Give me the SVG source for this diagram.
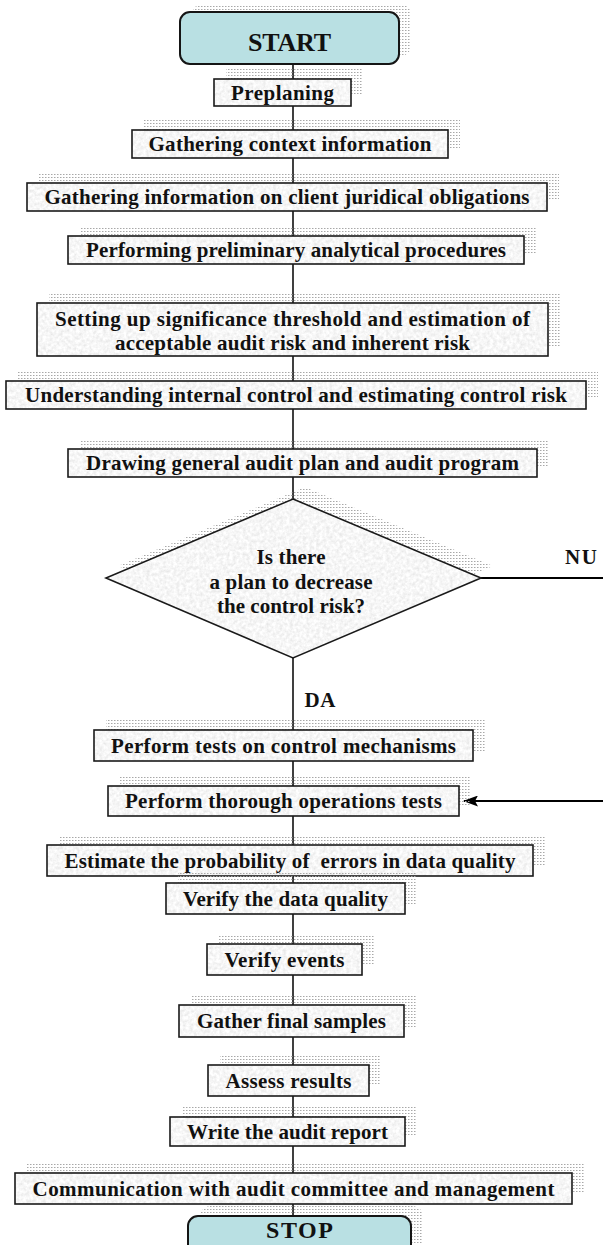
<svg xmlns="http://www.w3.org/2000/svg" width="603" height="1245" viewBox="0 0 603 1245">
<style>
text{font-family:"Liberation Serif","Times New Roman",serif;font-weight:bold;fill:#111;text-anchor:middle}
.t{font-size:21px}
.big{font-size:26px}
.stop{font-size:24px}
.box{fill:none;stroke:#1a1a1a;stroke-width:1.6}
.tex{fill:#e6e6e6;filter:url(#tex)}
.sh{fill:url(#dots)}
.term{fill:#b9e0e3;stroke:#151515;stroke-width:2}
.con{stroke:#111;stroke-width:1.6;fill:none}
.con2{stroke:#000;stroke-width:2;fill:none}
</style>
<defs>
<pattern id="dots" width="3" height="3" patternUnits="userSpaceOnUse">
<rect x="0" y="0" width="1.5" height="1" fill="#a8a8a8"/>
</pattern>
<filter id="tex" x="0" y="0" width="100%" height="100%">
<feTurbulence type="fractalNoise" baseFrequency="0.3" numOctaves="3" seed="4" result="n"/>
<feColorMatrix in="n" type="matrix" values="0.35 0 0 0 0.75  0.35 0 0 0 0.75  0.35 0 0 0 0.75  0 0 0 0 1" result="g"/>
<feComposite in="g" in2="SourceAlpha" operator="in"/>
</filter>
<marker id="arr" viewBox="0 0 15 11" refX="14" refY="5.5" markerWidth="15" markerHeight="11" markerUnits="userSpaceOnUse" orient="auto">
<path d="M0,0 L15,5.5 L0,11 L3,5.5 Z" fill="#000"/>
</marker>
</defs>

<g id="connectors">
<path class="con" d="M293,64V79M293,106V130M293,158V183M293,211V236M293,264V303M293,356V381M293,409V449M293,477V499M293,658V730M293,761V786M293,816V845M293,876V883M293,914V944M293,975V1005M293,1037V1065M293,1096V1117M293,1146V1173M293,1204V1216"/>
<path class="con2" d="M481,578H603"/>
<path class="con2" d="M603,801H464" marker-end="url(#arr)"/>
<text class="t" x="581" y="564" textLength="32">NU</text>
<text class="t" x="320" y="707" textLength="31">DA</text>
</g>

<g id="start">
<rect class="sh" x="192" y="4" width="219" height="52" rx="10"/>
<rect class="term" x="180" y="12" width="219" height="52" rx="10"/>
<text class="big" x="289.5" y="51" textLength="83">START</text>
</g>

<g id="preplaning">
<rect class="sh" x="226" y="69" width="137" height="27"/>
<rect class="tex" x="214" y="79" width="137" height="27"/>
<rect class="box" x="214" y="79" width="137" height="27"/>
<text class="t" x="282.5" y="99.5" textLength="103">Preplaning</text>
</g>

<g id="context">
<rect class="sh" x="144" y="120" width="316" height="28"/>
<rect class="tex" x="132" y="130" width="316" height="28"/>
<rect class="box" x="132" y="130" width="316" height="28"/>
<text class="t" x="290" y="151" textLength="283">Gathering context information</text>
</g>

<g id="juridical">
<rect class="sh" x="39" y="173" width="520" height="28"/>
<rect class="tex" x="27" y="183" width="520" height="28"/>
<rect class="box" x="27" y="183" width="520" height="28"/>
<text class="t" x="287" y="204" textLength="485">Gathering information on client juridical obligations</text>
</g>

<g id="analytical">
<rect class="sh" x="80" y="226" width="456" height="28"/>
<rect class="tex" x="68" y="236" width="456" height="28"/>
<rect class="box" x="68" y="236" width="456" height="28"/>
<text class="t" x="296" y="257" textLength="420">Performing preliminary analytical procedures</text>
</g>

<g id="threshold">
<rect class="sh" x="49" y="293" width="511" height="53"/>
<rect class="tex" x="37" y="303" width="511" height="53"/>
<rect class="box" x="37" y="303" width="511" height="53"/>
<text class="t" x="292.5" y="325.5" textLength="475">Setting up significance threshold and estimation of</text>
<text class="t" x="292.5" y="349.5" textLength="355">acceptable audit risk and inherent risk</text>
</g>

<g id="internal-control">
<rect class="sh" x="18" y="371" width="580" height="28"/>
<rect class="tex" x="6" y="381" width="580" height="28"/>
<rect class="box" x="6" y="381" width="580" height="28"/>
<text class="t" x="296" y="402" textLength="542">Understanding internal control and estimating control risk</text>
</g>

<g id="audit-plan">
<rect class="sh" x="80" y="439" width="469" height="28"/>
<rect class="tex" x="68" y="449" width="469" height="28"/>
<rect class="box" x="68" y="449" width="469" height="28"/>
<text class="t" x="302.5" y="470" textLength="433">Drawing general audit plan and audit program</text>
</g>

<g id="decision">
<polygon class="sh" points="305,487 493,566 305,646 118,566"/>
<polygon class="tex" points="293,499 481,578 293,658 106,578"/>
<polygon class="box" points="293,499 481,578 293,658 106,578"/>
<text class="t" x="291" y="563.5" textLength="69">Is there</text>
<text class="t" x="291" y="588.5" textLength="163">a plan to decrease</text>
<text class="t" x="291" y="612.5" textLength="148">the control risk?</text>
</g>

<g id="control-tests">
<rect class="sh" x="106" y="720" width="379" height="31"/>
<rect class="tex" x="94" y="730" width="379" height="31"/>
<rect class="box" x="94" y="730" width="379" height="31"/>
<text class="t" x="283.5" y="752.5" textLength="345">Perform tests on control mechanisms</text>
</g>

<g id="operations-tests">
<rect class="sh" x="120" y="776" width="351" height="30"/>
<rect class="tex" x="108" y="786" width="351" height="30"/>
<rect class="box" x="108" y="786" width="351" height="30"/>
<text class="t" x="283.5" y="808" textLength="317">Perform thorough operations tests</text>
</g>

<g id="estimate">
<rect class="sh" x="59" y="835" width="486" height="31"/>
<rect class="tex" x="47" y="845" width="486" height="31"/>
<rect class="box" x="47" y="845" width="486" height="31"/>
<text class="t" x="290" y="867.5" textLength="451">Estimate the probability of&#160; errors in data quality</text>
</g>

<g id="verify-data">
<rect class="sh" x="178" y="873" width="239" height="31"/>
<rect class="tex" x="166" y="883" width="239" height="31"/>
<rect class="box" x="166" y="883" width="239" height="31"/>
<text class="t" x="285.5" y="905.5" textLength="205">Verify the data quality</text>
</g>

<g id="verify-events">
<rect class="sh" x="219" y="934" width="155" height="31"/>
<rect class="tex" x="207" y="944" width="155" height="31"/>
<rect class="box" x="207" y="944" width="155" height="31"/>
<text class="t" x="284.5" y="966.5" textLength="120">Verify events</text>
</g>

<g id="samples">
<rect class="sh" x="191" y="995" width="225" height="32"/>
<rect class="tex" x="179" y="1005" width="225" height="32"/>
<rect class="box" x="179" y="1005" width="225" height="32"/>
<text class="t" x="291.5" y="1028" textLength="189">Gather final samples</text>
</g>

<g id="assess">
<rect class="sh" x="220" y="1055" width="161" height="31"/>
<rect class="tex" x="208" y="1065" width="161" height="31"/>
<rect class="box" x="208" y="1065" width="161" height="31"/>
<text class="t" x="288.5" y="1087.5" textLength="126">Assess results</text>
</g>

<g id="report">
<rect class="sh" x="182" y="1107" width="235" height="29"/>
<rect class="tex" x="170" y="1117" width="235" height="29"/>
<rect class="box" x="170" y="1117" width="235" height="29"/>
<text class="t" x="287.5" y="1138.5" textLength="201">Write the audit report</text>
</g>

<g id="communication">
<rect class="sh" x="27" y="1163" width="557" height="31"/>
<rect class="tex" x="15" y="1173" width="557" height="31"/>
<rect class="box" x="15" y="1173" width="557" height="31"/>
<text class="t" x="293.5" y="1195.5" textLength="522">Communication with audit committee and management</text>
</g>

<g id="stop">
<rect class="sh" x="200" y="1206" width="223" height="60" rx="10"/>
<rect class="term" x="188" y="1216" width="223" height="60" rx="10"/>
<text class="stop" x="299.5" y="1238" textLength="67">STOP</text>
</g>
</svg>
